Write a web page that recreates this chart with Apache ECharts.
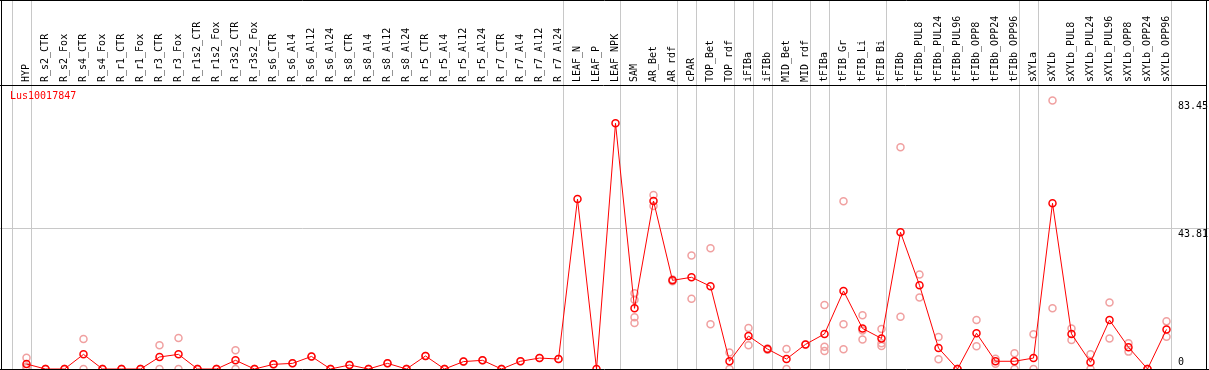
<!DOCTYPE html>
<html>
<head>
<meta charset="utf-8">
<script src="https://cdn.jsdelivr.net/npm/echarts@6/dist/echarts.min.js"></script>
<style>
  html, body { margin: 0; padding: 0; background: #fff; }
  #chart { width: 1209px; height: 370px; }
</style>
</head>
<body>
<div id="chart"></div>
<script>
const chartTitle = 'Lus10017847';

const categories = [
  'HYP', 'R_s2_CTR', 'R_s2_Fox', 'R_s4_CTR', 'R_s4_Fox', 'R_r1_CTR', 'R_r1_Fox',
  'R_r3_CTR', 'R_r3_Fox', 'R_r1s2_CTR', 'R_r1s2_Fox', 'R_r3s2_CTR', 'R_r3s2_Fox',
  'R_s6_CTR', 'R_s6_Al4', 'R_s6_Al12', 'R_s6_Al24', 'R_s8_CTR', 'R_s8_Al4',
  'R_s8_Al12', 'R_s8_Al24', 'R_r5_CTR', 'R_r5_Al4', 'R_r5_Al12', 'R_r5_Al24',
  'R_r7_CTR', 'R_r7_Al4', 'R_r7_Al12', 'R_r7_Al24', 'LEAF_N', 'LEAF_P', 'LEAF_NPK',
  'SAM', 'AR_Bet', 'AR_rdf', 'cPAR', 'TOP_Bet', 'TOP_rdf', 'iFIBa', 'iFIBb',
  'MID_Bet', 'MID_rdf', 'tFIBa', 'tFIB_Gr', 'tFIB_Li', 'tFIB_Bi', 'tFIBb',
  'tFIBb_PUL8', 'tFIBb_PUL24', 'tFIBb_PUL96', 'tFIBb_OPP8', 'tFIBb_OPP24', 'tFIBb_OPP96',
  'sXYLa', 'sXYLb', 'sXYLb_PUL8', 'sXYLb_PUL24', 'sXYLb_PUL96', 'sXYLb_OPP8',
  'sXYLb_OPP24', 'sXYLb_OPP96'
];

// mean expression per sample (red line)
const meanValues = [
  1.55, 0, 0, 4.55, 0, 0, 0,
  3.73, 4.55, 0, 0, 2.7, 0,
  1.45, 1.75, 3.9, 0, 1.25, 0,
  1.75, 0, 4.05, 0, 2.3, 2.7,
  0, 2.4, 3.4, 3.1, 52.8, 0, 76.35,
  18.85, 52.2, 27.55, 28.5, 25.7, 2.4, 10.25, 6.2,
  3.1, 7.65, 10.9, 24.25, 12.6, 9.5, 42.5,
  26.0, 6.5, 0, 11.1, 2.4, 2.4,
  3.4, 51.5, 10.9, 2.1, 15.2, 6.75,
  0, 12.3
];

// individual replicates (pink circles)
const replicateValues = [
  [3.5, 0.8, 0.3], [0, 0], [0, 0], [9.3, 0], [0, 0], [0, 0], [0, 0],
  [7.4, 0], [9.6, 0], [0, 0], [0, 0], [5.8, 0], [0, 0],
  [1.45], [1.75], [3.9], [0, 0], [1.25], [0, 0],
  [1.75], [0, 0], [4.05], [0, 0], [2.3], [2.7],
  [0, 0], [2.4], [3.4], [3.1], [], [], [],
  [23.5, 21.5, 16.1, 14.3], [54.1, 50.65], [27.8, 27.3], [35.3, 21.85], [37.5, 13.9], [5.1, 0], [12.75, 7.35], [6.4, 6.0],
  [6.2, 0], [7.65], [19.9, 6.9, 5.6], [52.1, 13.9, 6.1], [16.7, 12.0, 9.2], [12.4, 8.0, 7.15], [68.9, 16.25],
  [29.4, 22.2], [9.95, 3.0], [0, 0], [15.2, 7.05], [3.2, 1.6], [4.9, 0],
  [10.8, 0], [83.45, 18.85], [12.6, 9.0], [4.55, 0], [20.7, 9.5], [8.0, 5.4],
  [0, 0], [14.8, 10.0]
];

// vertical group separators: drawn just right of these category indices (-1 = before first)
const separatorAfter = [-1, 0, 28, 31, 34, 35, 37, 38, 39, 41, 42, 45, 52, 53, 60];

// value axis
const yLabelValues = [0, 43.81, 83.45];
const yGridValues = [43.81];
const yMax = 88.25;

const replicatePoints = [];
replicateValues.forEach((reps, i) => {
  reps.forEach(v => replicatePoints.push([categories[i], v]));
});

const FONT = 'DejaVu Sans Mono';

const chart = echarts.init(document.getElementById('chart'), null, { renderer: 'canvas' });

const option = {
  animation: false,
  backgroundColor: '#fff',
  title: {
    text: chartTitle,
    left: 5,
    top: 86,
    textStyle: { color: '#ff0000', fontSize: 10, fontFamily: FONT, fontWeight: 'normal' }
  },
  grid: { left: 17, right: 33, top: 85, bottom: 1, containLabel: false },
  xAxis: {
    type: 'category',
    position: 'top',
    data: categories,
    boundaryGap: true,
    axisLine: { show: false },
    axisTick: { show: false },
    splitLine: { show: false },
    axisLabel: {
      interval: 0,
      rotate: 90,
      margin: 3,
      color: '#000',
      fontSize: 10,
      fontFamily: FONT
    }
  },
  yAxis: {
    type: 'value',
    position: 'right',
    min: 0,
    max: yMax,
    axisLine: { show: false },
    axisTick: { show: false },
    axisLabel: { show: false },
    splitLine: { show: false }
  },
  graphic: [
    { type: 'line', z: 100, shape: { x1: 0, y1: 0.5, x2: 1209, y2: 0.5 }, style: { stroke: '#000', lineWidth: 1 } },
    { type: 'line', z: 100, shape: { x1: 0, y1: 85.5, x2: 1207, y2: 85.5 }, style: { stroke: '#000', lineWidth: 1 } },
    { type: 'line', z: 100, shape: { x1: 0, y1: 369.5, x2: 1209, y2: 369.5 }, style: { stroke: '#000', lineWidth: 1 } },
    { type: 'line', z: 100, shape: { x1: 1.5, y1: 0, x2: 1.5, y2: 370 }, style: { stroke: '#000', lineWidth: 1 } },
    { type: 'line', z: 100, shape: { x1: 1206.5, y1: 0, x2: 1206.5, y2: 370 }, style: { stroke: '#000', lineWidth: 1 } }
  ],
  series: [
    {
      type: 'custom',
      name: 'separators',
      z: 1,
      clip: false,
      silent: true,
      data: separatorAfter.map(i => [Math.max(i, 0), Math.min(i, 0)]),
      renderItem: function (params, api) {
        const band = api.size([1, 0])[0];
        const x = api.coord([api.value(0), 0])[0] + api.value(1) * band + 4;
        const xr = Math.round(x) + 0.5;
        return {
          type: 'line',
          shape: { x1: xr, y1: 0, x2: xr, y2: 370 },
          style: { stroke: '#c8c8c8', lineWidth: 1 }
        };
      }
    },
    {
      type: 'custom',
      name: 'gridlines',
      z: 1,
      clip: false,
      silent: true,
      data: yGridValues.map(v => [0, v]),
      renderItem: function (params, api) {
        const y = Math.round(api.coord([0, api.value(1)])[1]) + 0.5;
        return {
          type: 'line',
          shape: { x1: 0, y1: y, x2: api.getWidth(), y2: y },
          style: { stroke: '#c8c8c8', lineWidth: 1 }
        };
      }
    },
    {
      type: 'scatter',
      name: 'replicates',
      z: 2,
      data: replicatePoints,
      symbol: 'circle',
      symbolSize: 7,
      itemStyle: { color: 'rgba(0,0,0,0)', borderColor: '#f0a0a0', borderWidth: 1.5, opacity: 1 }
    },
    {
      type: 'line',
      name: chartTitle,
      z: 3,
      data: meanValues,
      symbol: 'circle',
      symbolSize: 7,
      showAllSymbol: true,
      lineStyle: { color: '#ff0000', width: 1 },
      itemStyle: { color: 'rgba(0,0,0,0)', borderColor: '#ff0000', borderWidth: 1.5 }
    },
    {
      type: 'custom',
      name: 'ylabels',
      z: 5,
      clip: false,
      silent: true,
      data: yLabelValues.map(v => [0, v]),
      renderItem: function (params, api) {
        const v = api.value(1);
        const band = api.size([1, 0])[0];
        const xRight = api.coord([categories.length - 1, 0])[0] + band / 2 + 2;
        const y = api.coord([0, v])[1];
        return {
          type: 'text',
          style: {
            text: String(v),
            x: xRight,
            y: v === 0 ? y - 2 : y + 1,
            align: 'left',
            verticalAlign: v === 0 ? 'bottom' : 'top',
            fill: '#000',
            fontSize: 10,
            fontFamily: FONT
          }
        };
      }
    }
  ]
};

chart.setOption(option);
</script>
</body>
</html>
